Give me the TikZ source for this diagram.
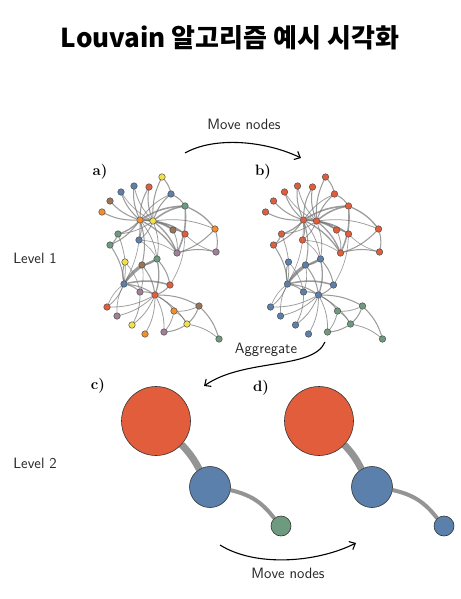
\documentclass[tikz,border=0pt]{standalone}
\usepackage{fontspec}
\newfontfamily\titlefont{Noto Sans CJK KR}
\usetikzlibrary{arrows.meta,backgrounds}

\definecolor{cred}{HTML}{E15D3B}
\definecolor{cblu}{HTML}{5B80AB}
\definecolor{cgrn}{HTML}{6E9A7F}
\definecolor{corg}{HTML}{F28E2B}
\definecolor{cyel}{HTML}{F2E24A}
\definecolor{cbrn}{HTML}{9A7459}
\definecolor{cpur}{HTML}{A27E97}

\tikzset{
  vtx/.style={circle,draw=black!70,line width=0.5pt,minimum size=6.5pt,inner sep=0pt},
  edge/.style={draw=black!55,opacity=0.7},
  blob/.style={circle,draw=black!80,line width=0.6pt,inner sep=0pt},
  link/.style={draw=black!42},
  lbl/.style={font=\sffamily\fontsize{15}{18}\selectfont,text=black!85},
  panel/.style={font=\bfseries\fontsize{15}{17}\selectfont},
  flow/.style={-{Straight Barb[length=5pt,width=9pt]},line width=1.1pt},
}

% node list: id/x/y/colour in a)/colour in b)
\newcommand\nodelist{1/162/177/cyel/cred, 2/134/186/cblu/cred, 3/149/187/cred/cred,
  4/121/192/cblu/cred, 5/171/194/cblu/cred, 6/110/201/cbrn/cred, 7/185/206/cgrn/cred,
  8/102/212/corg/cred, 9/140/220/corg/cred, 10/153/221/cyel/cred, 11/173/230/cbrn/cred,
  12/185/234/cred/cred, 13/215/229/corg/cred, 14/118/234/cgrn/cred, 15/139/240/cblu/cred,
  16/110/245/cgrn/cred, 17/177/253/cpur/cred, 18/216/252/cpur/cred, 19/125/262/cyel/cblu,
  20/157/259/cgrn/cblu, 21/142/265/cbrn/cblu, 22/124/284/cblu/cblu, 23/170/285/cred/cblu,
  24/140/292/cpur/cblu, 25/155/295/cred/cblu, 26/107/307/cred/cblu, 27/199/306/cbrn/cgrn,
  28/174/311/corg/cgrn, 29/117/316/cpur/cblu, 30/187/324/cyel/cgrn, 31/132/325/cyel/cblu,
  32/145/334/corg/cblu, 33/164/332/cpur/cgrn, 34/219/339/cgrn/cgrn}

\newcommand\edgelist{9/10/1.6, 9/2/0.8, 9/3/0.8, 9/4/0.8, 9/6/0.8, 9/8/0.8, 9/14/1.0,
  9/15/0.8, 9/16/0.8, 9/11/1.0, 9/12/0.6, 9/7/1.2, 9/5/0.6, 9/17/1.0, 9/20/0.6, 9/21/0.8,
  9/22/0.5, 10/1/0.8, 10/2/0.6, 10/3/0.8, 10/5/0.8, 10/7/1.2, 10/11/0.8, 10/12/0.8,
  10/13/0.6, 10/14/0.6, 10/15/0.6, 10/17/1.0, 10/20/0.6, 10/4/0.5, 1/5/0.8, 5/7/0.8,
  7/13/1.0, 13/18/0.8, 7/17/1.2, 13/17/0.8, 17/18/0.8, 11/12/0.6, 11/17/0.6, 14/16/0.8,
  15/20/0.5, 16/22/0.8, 14/22/0.6, 12/23/0.5, 18/12/0.5, 15/17/0.5,
  22/21/1.4, 22/20/1.2, 22/23/1.2, 22/24/0.8, 22/25/0.8, 22/19/0.8, 22/26/0.6, 20/21/1.0,
  20/23/0.8, 20/25/1.0, 21/25/0.8, 23/25/0.8, 24/25/0.8, 19/24/0.5, 24/31/0.6, 25/26/0.6,
  25/29/0.6, 25/31/0.6, 25/32/0.6, 25/33/0.6, 25/28/0.8, 25/27/0.8, 25/30/0.6, 27/28/0.6,
  27/30/0.8, 27/34/0.8, 28/30/0.6, 28/33/0.6, 30/33/0.8, 30/34/0.6, 21/24/0.5, 26/22/0.5,
  29/22/0.5}

% #1 = 1 for the colours of a), 2 for b)
\newcommand\graphpanel[1]{%
  \foreach \i/\px/\py/\ca/\cb in \nodelist {
    \ifnum#1=1 \def\cc{\ca}\else\def\cc{\cb}\fi
    \node[vtx,fill=\cc] (n\i) at (\px,\py) {};
  }
  \begin{scope}[on background layer]
    \foreach \u/\v/\w in \edgelist
      \draw[edge,line width=\w*1.3pt] (n\u) to[bend left=14] (n\v);
  \end{scope}
}

\begin{document}
\begin{tikzpicture}[x=1pt,y=-1pt]
\useasboundingbox (0,0) rectangle (460,599);
\begin{scope}[on background layer]
  \fill[white] (0,0) rectangle (460,599);
\end{scope}

\node[font=\titlefont\bfseries\fontsize{26}{30}\selectfont] (title) at (230,38) {Louvain 알고리즘 예시 시각화};

% level 1
\node[lbl] (lev1) at (35,258) {Level 1};
\node[panel] (pa) at (100,172) {a)};
\node[panel] (pb) at (263,172) {b)};
\begin{scope}[name prefix=a-]
  \graphpanel{1}
\end{scope}
\begin{scope}[name prefix=b-,shift={(163.5,0)}]
  \graphpanel{2}
\end{scope}

% level 2
\node[lbl] (lev2) at (35,463) {Level 2};
\node[panel] (pc) at (98,386) {c)};
\node[panel] (pd) at (261,388) {d)};
\node[blob,fill=cred,minimum size=69pt] (c-red) at (156,421) {};
\node[blob,fill=cblu,minimum size=41pt] (c-blu) at (210,487) {};
\node[blob,fill=cgrn,minimum size=20pt] (c-sml) at (281,526) {};
\node[blob,fill=cred,minimum size=69pt] (d-red) at (319,421) {};
\node[blob,fill=cblu,minimum size=41pt] (d-blu) at (372,487) {};
\node[blob,fill=cblu,minimum size=20pt] (d-sml) at (444,526) {};
\begin{scope}[on background layer]
  \draw[link,line width=7pt] (c-red) to[bend left=8] (c-blu);
  \draw[link,line width=4pt] (c-blu) to[bend left=20] (c-sml);
  \draw[link,line width=7pt] (d-red) to[bend left=8] (d-blu);
  \draw[link,line width=4pt] (d-blu) to[bend left=20] (d-sml);
\end{scope}

% steps
\coordinate (m1s) at (185,153);
\coordinate (m1e) at (301,158);
\draw[flow] (m1s) .. controls +(30,-17) and +(-35,-17) .. (m1e);
\node[lbl] (move1) at (244,124) {Move nodes};

\coordinate (ags) at (325,342);
\coordinate (age) at (204,386);
\draw[flow] (ags) .. controls +(-12,28) and +(40,-28) .. (age);
\node[lbl] (agg) at (266,350) {Aggregate};

\coordinate (m2s) at (220,545);
\coordinate (m2e) at (356,543);
\draw[flow] (m2s) .. controls +(35,22) and +(-40,20) .. (m2e);
\node[lbl] (move2) at (288,573) {Move nodes};
\end{tikzpicture}
\end{document}
